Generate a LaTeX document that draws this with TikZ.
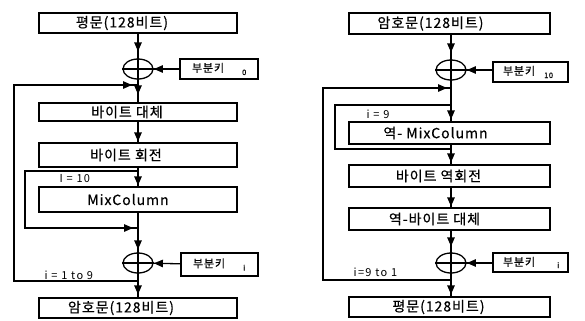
\documentclass[tikz,border=0pt]{standalone}
\usepackage{fontspec}
\setmainfont{Noto Sans CJK KR}
\usetikzlibrary{shapes.geometric,arrows.meta,decorations.markings}

\newcommand{\boxfont}{\fontsize{14bp}{14bp}\selectfont\addfontfeature{LetterSpace=7,FakeBold=0.6}}
\newcommand{\keyfont}{\fontsize{11bp}{11bp}\selectfont\addfontfeature{LetterSpace=8,FakeBold=0.6}}
\newcommand{\subfont}{\fontsize{7.5bp}{7.5bp}\selectfont}
\newcommand{\loopfont}{\fontsize{11bp}{11bp}\selectfont\addfontfeature{LetterSpace=12}}

\begin{document}
\begin{tikzpicture}[x=1bp,y=-1bp,line width=1.3bp,
  stage/.style={draw,rectangle,inner sep=0pt,minimum width=198bp},
  keybox/.style={draw,rectangle,inner sep=0pt,align=left,font=\keyfont},
  xor/.style={draw,ellipse,inner sep=0pt,minimum width=30bp,minimum height=20bp},
  tip/.style={postaction={decorate},decoration={markings,
      mark=at position #1 with {\arrow{Triangle[length=9bp,width=7.5bp]}}}},
  tip/.default=-2bp,
  looplabel/.style={font=\loopfont,anchor=west,inner sep=0pt}]
\useasboundingbox (0,0) rectangle (585,320);

% ---------------- encryption ----------------
\node[stage,minimum height=20bp,label={[font=\boxfont,xshift=-16bp]center:평문(128비트)}] (p1) at (138,23) {};
\node[xor] (x1) at (138,69) {};
\node[keybox,text width=78bp,minimum height=20bp] (k1) at (219,69)
  {\hspace*{12bp}부분키\hspace{18bp}\raisebox{-3bp}{\subfont 0}};
\node[stage,minimum height=18bp,label={[font=\boxfont,xshift=-11bp]center:바이트 대체}] (p2) at (138,112) {};
\node[stage,minimum height=24bp,label={[font=\boxfont,xshift=-12bp]center:바이트 회전}] (p3) at (138,155) {};
\node[stage,minimum height=25bp,label={[font=\boxfont,xshift=-10bp]center:MixColumn}] (p4) at (138,199.5) {};
\node[xor] (x2) at (138,263) {};
\node[keybox,text width=77bp,minimum height=23bp] (k2) at (219.5,264.5)
  {\hspace*{12bp}부분키\hspace{18bp}\raisebox{-3bp}{\subfont i}};
\node[stage,minimum height=20bp,label={[font=\boxfont,xshift=-17bp]center:암호문(128비트)}] (p5) at (138,308) {};

\coordinate (eIn) at (138,85);
\coordinate (eOut) at (138,281);
\coordinate (mIn) at (138,171);
\coordinate (mOut) at (138,228);

\draw[tip=-7bp] (p1) -- (x1);
\draw[tip=-0.3bp] (k1) -- (x1);
\draw (x1.west) -- (x1.east) (x1.north) -- (x1.south);
\draw[tip=-8bp] (x1) -- (p2);
\draw[tip=-1bp] (p2) -- (p3);
\draw[tip=-1bp] (p3) -- (p4);
\draw[tip=-3bp] (p4) -- (x2);
\draw[tip=-0.3bp] (k2) -- (x2);
\draw (x2.west) -- (x2.east) (x2.north) -- (x2.south);
\draw[tip=-3bp] (x2) -- (p5);
\draw[tip=-6bp] (eOut) -- ++(-124,0) |- (eIn);
\draw[tip=-5bp] (mIn) -- ++(-113,0) |- (mOut);

\node[looplabel] (lm) at (59,179) {I = 10};
\node[looplabel] (le) at (44,275) {i = 1 to 9};

% ---------------- decryption ----------------
\node[stage,minimum width=201bp,minimum height=21bp,label={[font=\boxfont,xshift=-19bp]center:암호문(128비트)}] (q1) at (449.5,23.5) {};
\node[xor] (x3) at (451,70) {};
\node[keybox,text width=75bp,minimum height=20bp] (k3) at (530.5,72)
  {\hspace*{10bp}부분키\hspace{9bp}\raisebox{-3bp}{\subfont 10}};
\node[stage,minimum width=201bp,minimum height=22bp,label={[font=\boxfont,xshift=-14bp]center:역- MixColumn}] (q2) at (449.5,133) {};
\node[stage,minimum width=201bp,minimum height=22bp,label={[font=\boxfont,xshift=-11bp]center:바이트 역회전}] (q3) at (449.5,176) {};
\node[stage,minimum width=201bp,minimum height=22bp,label={[font=\boxfont,xshift=-15bp]center:역-바이트 대체}] (q4) at (449.5,219) {};
\node[xor] (x4) at (451,263) {};
\node[keybox,text width=75bp,minimum height=19bp] (k4) at (530.5,262.5)
  {\hspace*{10bp}부분키\hspace{22bp}\raisebox{-2bp}{\subfont i}};
\node[stage,minimum width=201bp,minimum height=20bp,label={[font=\boxfont,xshift=-11bp]center:평문(128비트)}] (q5) at (449.5,307) {};

\coordinate (dIn) at (451,88);
\coordinate (dOut) at (451,280);
\coordinate (nIn) at (451,105);
\coordinate (nOut) at (451,149);

\draw[tip=-7bp] (q1.south -| x3) -- (x3);
\draw[tip=-0.3bp] (k3.west |- x3) -- (x3);
\draw (x3.west) -- (x3.east) (x3.north) -- (x3.south);
\draw[tip=-2bp] (x3) -- (q2.north -| x3);
\draw[tip=-2bp] (q2.south -| x3) -- (q3.north -| x3);
\draw[tip=-1bp] (q3.south -| x3) -- (q4.north -| x3);
\draw[tip=-6bp] (q4.south -| x4) -- (x4);
\draw[tip=-0.3bp] (k4.west |- x4) -- (x4);
\draw (x4.west) -- (x4.east) (x4.north) -- (x4.south);
\draw[tip=-2bp] (x4) -- (q5.north -| x4);
\draw[tip=-4bp] (dOut) -- ++(-128,0) |- (dIn);
\draw (nIn) -- ++(-116,0) |- (nOut);

\node[looplabel] (ln) at (366,114) {i = 9};
\node[looplabel] (ld) at (353,272) {i=9 to 1};
\end{tikzpicture}
\end{document}
